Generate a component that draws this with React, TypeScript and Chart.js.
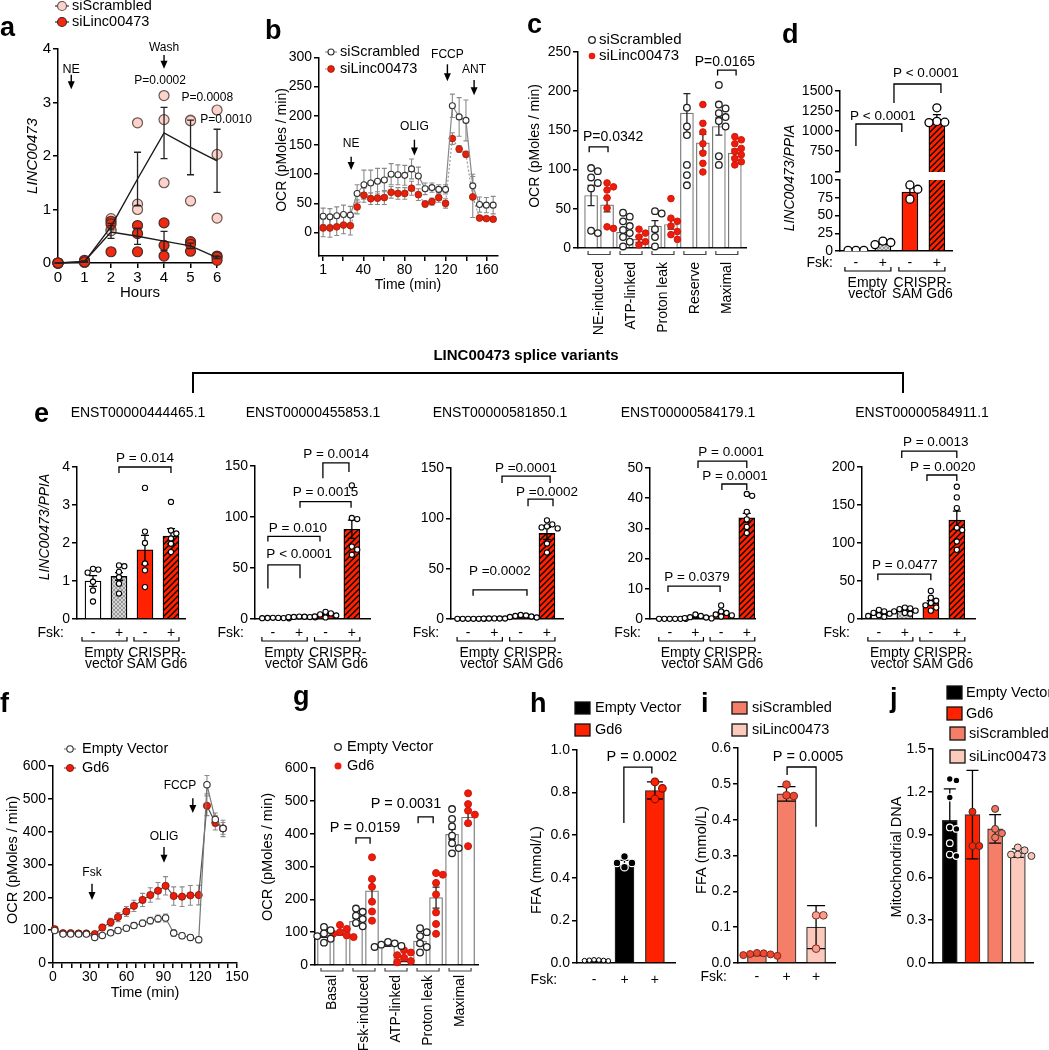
import React, { useEffect, useRef } from 'react';
import { Chart, registerables } from 'chart.js';
Chart.register(...registerables);

const FONT = '"Liberation Sans", Arial, Helvetica, sans-serif';
const PW = 1049;
const PH = 1050;
const YW = 40;

// ================= DATA =================
// a
const aHours = [0, 1, 2, 3, 4, 5, 6];
const aYTicks = [0, 1, 2, 3, 4];
const aScrMean = [0, 0.02, 0.68, 1.57, 2.43, 2.16, 1.91];
const aScrSem = [0, 0.01, 0.06, 0.5, 0.48, 0.51, 0.59];
const aLincMean = [0, 0.03, 0.58, 0.5, 0.41, 0.32, 0.1];
const aLincSem = [0, 0.01, 0.12, 0.15, 0.18, 0.05, 0.02];
const aScrPts = [[0, 0, 0], [0.01, 0.02, 0.03], [0.83, 0.62, 0.6], [2.62, 1.1, 1.0], [3.13, 2.68, 1.5], [2.67, 2.66, 1.16], [2.86, 2.03, 0.84]];
const aLincPts = [[0, 0, 0], [0.03, 0.05, 0.02], [0.78, 0.73, 0.21], [0.7, 0.55, 0.21], [0.75, 0.33, 0.13], [0.4, 0.35, 0.22], [0.13, 0.11, 0.05]];

// b
const bTime = [1, 7.6, 14.2, 20.8, 27.4, 34, 40.6, 47.2, 53.8, 60.4, 67, 73.6, 80.2, 86.8, 93.4, 100, 106.6, 113.2, 119.8, 126.4, 133, 139.6, 146.2, 152.8, 159.4, 166];
const bScr = [28, 27, 29, 31, 30, 67, 82, 85, 88, 90, 100, 99, 98, 109, 97, 75, 77, 74, 74, 217, 198, 192, 80, 48, 47, 47];
const bScrSem = [14, 14, 15, 16, 15, 15, 25, 22, 22, 20, 18, 17, 17, 17, 15, 10, 8, 8, 8, 20, 33, 35, 20, 13, 13, 15];
const bLinc = [8, 8, 10, 13, 12, 44, 64, 58, 59, 60, 69, 67, 67, 76, 65, 49, 53, 60, 50, 161, 143, 134, 61, 25, 24, 23];
const bLincSem = [15, 16, 15, 15, 16, 12, 12, 10, 11, 12, 10, 10, 10, 12, 10, 5, 6, 8, 8, 10, 6, 5, 35, 3, 3, 3];
const bXTicks = [1, 20, 40, 60, 80, 100, 120, 140, 160];
const bXShown = [1, 40, 80, 120, 160];
const bYTicks = [0, 50, 100, 150, 200, 250, 300];

// c
const cCats = ['NE-induced', 'ATP-linked', 'Proton leak', 'Reserve', 'Maximal'];
const cScrMean = [67, 20, 28, 172, 155];
const cScrSem = [13, 5, 7, 25, 11];
const cLincMean = [55, 11, 30, 134, 121];
const cLincSem = [9, 4, 6, 11, 5];
const cScrPts = [[102, 98, 90, 83, 76, 22, 19], [45, 40, 34, 28, 23, 19, 14, 8, 2], [47, 44, 24, 14, 2], [179, 155, 144, 106, 93, 80], [208, 183, 178, 172, 167, 162, 155, 117, 106]];
const cLincPts = [[83, 78, 74, 64, 51, 27, 25], [24, 19, 14, 8, 4], [63, 38, 34, 28, 21, 17, 11], [183, 159, 148, 133, 121, 108, 97], [142, 138, 133, 127, 123, 119, 114, 110, 106]];
const cYTicks = [0, 50, 100, 150, 200, 250];

// d
const dFsk = ['-', '+', '-', '+'];
const dMean = [1, 11, 83, 1145];
const dSem = [0.3, 1.5, 6, 60];
const dPts = [[1, 1, 1], [9, 14, 12], [93, 87, 73], [1290, 1120, 1105, 1110]];
const dYTicksUp = [487.5, 750, 1000, 1250, 1500];
const dYTicksLow = [0, 25, 50, 75, 100];

// e
const eTitles = ['ENST00000444465.1', 'ENST00000455853.1', 'ENST00000581850.1', 'ENST00000584179.1', 'ENST00000584911.1'];
const eMean = [[1.0, 1.12, 1.82, 2.18], [1, 2, 4, 88], [0.2, 0.5, 2.5, 85], [0.05, 0.5, 1.8, 33.5], [7, 11, 21, 130]];
const eSem = [[0.14, 0.1, 0.38, 0.2], [0.2, 0.3, 0.7, 9], [0.05, 0.1, 0.4, 6], [0.02, 0.2, 0.4, 1.5], [1.2, 1.2, 3, 12]];
const ePts = [
  [[1.32, 1.3, 1.22, 0.98, 0.75, 0.46], [1.41, 1.39, 1.24, 1.1, 0.93, 0.67], [3.45, 2.3, 2.0, 1.46, 1.28, 0.84], [3.08, 2.33, 2.25, 2.12, 1.98, 1.76]],
  [[1.2, 1.0, 0.9, 0.8, 1.1, 0.7], [2.4, 2.2, 2.0, 1.9, 1.7, 1.8], [7, 5.5, 4.5, 3.5, 2.5, 1.5], [131, 99, 98, 71, 68, 63]],
  [[0.2, 0.2, 0.2, 0.2, 0.2, 0.2], [0.6, 0.5, 0.5, 0.4, 0.5], [4, 3.5, 3, 2.5, 2, 1.5], [98, 94, 92, 91, 90, 75, 66]],
  [[0.05, 0.05, 0.05, 0.05, 0.05, 0.05], [1.5, 1.0, 0.6, 0.3, 0.2, 0.5], [4.5, 2.5, 2.0, 1.5, 1.2, 0.8], [41.4, 40.8, 35.5, 33, 30.5, 28.5]],
  [[12, 10, 8, 7, 5, 4, 3], [15, 14, 13, 11, 10, 8, 7], [37, 28, 24, 21, 18, 15, 11], [174, 160, 146, 120, 117, 102, 91]],
];
const eYTicks = [[0, 1, 2, 3, 4], [0, 50, 100, 150], [0, 50, 100, 150], [0, 10, 20, 30, 40, 50], [0, 50, 100, 150, 200]];

// f
const fTime = [1.4, 8.2, 14.4, 20.9, 27.2, 34, 40.2, 47, 53, 59.8, 66, 73, 79.3, 85.6, 91.8, 98.4, 105.2, 112, 118.8, 125.5, 132.3, 138.6];
const fEV = [99, 88, 88, 88, 88, 78, 84, 92, 99, 106, 114, 121, 129, 135, 137, 91, 83, 78, 71, 543, 437, 410];
const fEVSem = [6, 5, 5, 5, 5, 6, 6, 7, 8, 8, 9, 10, 10, 11, 12, 10, 9, 9, 9, 28, 20, 18];
const fGd6 = [103, 91, 91, 90, 90, 88, 108, 124, 140, 157, 174, 192, 207, 220, 235, 204, 202, 206, 207, 479, 427, 410];
const fGd6Sem = [6, 6, 6, 6, 6, 8, 10, 12, 14, 15, 17, 20, 22, 25, 28, 28, 30, 30, 30, 30, 22, 25];
const fXTicks = [0, 7.5, 15, 22.5, 30, 37.5, 45, 52.5, 60, 67.5, 75, 82.5, 90, 97.5, 105, 112.5, 120, 127.5, 135, 142.5, 150];
const fXShown = [0, 30, 60, 90, 120, 150];
const fYTicks = [0, 100, 200, 300, 400, 500, 600];

// g
const gCats = ['Basal', 'Fsk-induced', 'ATP-linked', 'Proton leak', 'Maximal'];
const gEVMean = [92, 133, 60, 73, 398];
const gEVSem = [8, 10, 3, 13, 15];
const gGd6Mean = [97, 226, 18, 205, 450];
const gGd6Sem = [6, 33, 8, 32, 22];
const gEVPts = [[116, 106, 96, 88, 80, 68], [172, 162, 150, 140, 128, 118], [70, 66, 62, 58, 55], [112, 100, 88, 66, 55, 38], [475, 445, 422, 394, 371, 356, 340]];
const gGd6Pts = [[122, 110, 100, 95, 90, 85], [328, 262, 238, 193, 163, 135], [45, 38, 30, 22, 12, 8], [280, 275, 250, 215, 160, 125, 95], [523, 490, 470, 458, 432, 362]];
const gYTicks = [0, 100, 200, 300, 400, 500, 600];

// h
const hFsk = ['-', '+', '+'];
const hMean = [0.012, 0.46, 0.81];
const hSd = [0.004, 0.022, 0.04];
const hPts = [[0.015, 0.012, 0.01, 0.013, 0.011, 0.014], [0.5, 0.47, 0.47, 0.45], [0.85, 0.82, 0.77]];
const hYTicks = [0, 0.2, 0.4, 0.6, 0.8, 1.0];

// i
const iFsk = ['-', '+', '+'];
const iMean = [0.024, 0.472, 0.1];
const iSd = [0.003, 0.02, 0.06];
const iPts = [[0.028, 0.027, 0.025, 0.022, 0.02, 0.024], [0.498, 0.468, 0.466], [0.133, 0.133, 0.04]];
const iYTicks = [0, 0.1, 0.2, 0.3, 0.4, 0.5, 0.6];

// j
const jLegend = ['Empty Vector', 'Gd6', 'siScrambled', 'siLinc00473'];
const jMean = [1.0, 1.04, 0.94, 0.77];
const jSd = [0.22, 0.31, 0.1, 0.03];
const jPts = [[1.29, 1.28, 1.16, 0.95, 0.94, 0.84, 0.76, 0.75], [1.06, 0.82, 0.82], [1.08, 0.94, 0.91, 0.88], [0.81, 0.79, 0.76, 0.76, 0.75]];
const jYTicks = [0, 0.3, 0.6, 0.9, 1.2, 1.5];

// ================= HELPERS =================
type Geo = { x0: number; x1: number; yTop: number; yBot: number; xmin: number; xmax: number; ymin: number; ymax: number };

const RED = '#ff2200';
const SALMON = '#f57e69';
const PALE = '#fcc9bd';

function tx(ctx: any, s: string, x: number, y: number, o: any = {}) {
  ctx.save();
  ctx.font = `${o.italic ? 'italic ' : ''}${o.bold ? 'bold ' : ''}${o.size || 14}px ${FONT}`;
  ctx.fillStyle = o.color || '#000';
  ctx.textAlign = o.align || 'center';
  ctx.textBaseline = o.base || 'middle';
  ctx.translate(x, y);
  if (o.rot) ctx.rotate(o.rot);
  ctx.fillText(s, 0, 0);
  ctx.restore();
}
function ln(ctx: any, pts: number[][], w = 1.3, c = '#000', dash: number[] = []) {
  ctx.save();
  ctx.strokeStyle = c;
  ctx.lineWidth = w;
  ctx.setLineDash(dash);
  ctx.beginPath();
  pts.forEach((p, i) => (i ? ctx.lineTo(p[0], p[1]) : ctx.moveTo(p[0], p[1])));
  ctx.stroke();
  ctx.restore();
}
function dot(ctx: any, x: number, y: number, r: number, fill: string, stroke: string | null, w = 1.2) {
  ctx.save();
  ctx.beginPath();
  ctx.arc(x, y, r, 0, Math.PI * 2);
  ctx.fillStyle = fill;
  ctx.fill();
  if (stroke) { ctx.strokeStyle = stroke; ctx.lineWidth = w; ctx.stroke(); }
  ctx.restore();
}
function sq(ctx: any, x: number, y: number, w: number, h: number, fill: string) {
  ctx.save();
  ctx.fillStyle = fill;
  ctx.fillRect(x, y, w, h);
  ctx.strokeStyle = '#111';
  ctx.lineWidth = 1.3;
  ctx.strokeRect(x, y, w, h);
  ctx.restore();
}
function arrowDown(ctx: any, x: number, y1: number, y2: number) {
  ln(ctx, [[x, y1], [x, y2 - 5]], 1.4);
  ctx.save();
  ctx.fillStyle = '#000';
  ctx.beginPath();
  ctx.moveTo(x, y2);
  ctx.lineTo(x - 3.5, y2 - 8);
  ctx.lineTo(x + 3.5, y2 - 8);
  ctx.closePath();
  ctx.fill();
  ctx.restore();
}
function pb(ctx: any, X: any, Y: any, b: any[], size = 14) {
  const [x1, x2, top, yl, yr, t, tcx, tcy] = b;
  ln(ctx, [[X(x1), Y(yl)], [X(x1), Y(top)], [X(x2), Y(top)], [X(x2), Y(yr)]], 1.3);
  tx(ctx, t, X(tcx), Y(tcy), { size });
}
const XS = (c: any) => (v: number) => c.scales.x.getPixelForValue(v);
const YS = (c: any) => (v: number) => c.scales.y.getPixelForValue(v);

function errBars(c: any, xs: number[], ms: number[], ss: number[], cap: number, lw: number, color: string, clip: boolean) {
  const ctx = c.ctx, X = XS(c), Y = YS(c), a = c.chartArea;
  ctx.save();
  if (clip) { ctx.beginPath(); ctx.rect(a.left - 30, a.top, a.right - a.left + 60, a.bottom - a.top); ctx.clip(); }
  ctx.strokeStyle = color;
  ctx.lineWidth = lw;
  xs.forEach((x, i) => {
    const px = X(x), hi = Y(ms[i] + ss[i]), lo = Y(ms[i] - ss[i]);
    ctx.beginPath();
    ctx.moveTo(px, hi); ctx.lineTo(px, lo);
    ctx.moveTo(px - cap, hi); ctx.lineTo(px + cap, hi);
    ctx.moveTo(px - cap, lo); ctx.lineTo(px + cap, lo);
    ctx.stroke();
  });
  ctx.restore();
}

function mkHatch(bg: string, fg: string, size: number, lw: number, cross: boolean) {
  const c = document.createElement('canvas');
  c.width = size; c.height = size;
  const x = c.getContext('2d') as CanvasRenderingContext2D;
  x.fillStyle = bg; x.fillRect(0, 0, size, size);
  x.strokeStyle = fg; x.lineWidth = lw;
  x.beginPath();
  x.moveTo(0, size); x.lineTo(size, 0);
  x.moveTo(-size / 2, size / 2); x.lineTo(size / 2, -size / 2);
  x.moveTo(size / 2, size * 1.5); x.lineTo(size * 1.5, size / 2);
  if (cross) {
    x.moveTo(0, 0); x.lineTo(size, size);
    x.moveTo(-size / 2, size / 2); x.lineTo(size / 2, size * 1.5);
    x.moveTo(size / 2, -size / 2); x.lineTo(size * 1.5, size / 2);
  }
  x.stroke();
  return x.createPattern(c, 'repeat');
}

function swarm(vals: number[], pxY: number, pxX: number, r: number) {
  const idx = vals.map((_, i) => i).sort((a, b) => vals[b] - vals[a]);
  const placed: { x: number; y: number }[] = [];
  const out = vals.map(() => 0);
  const step = r * 1.7;
  for (const i of idx) {
    const y = vals[i] * pxY;
    let ch = 0;
    for (let k = 0; k < 14; k++) {
      const cand = k === 0 ? 0 : (k % 2 ? 1 : -1) * Math.ceil(k / 2) * step;
      if (placed.every((p) => Math.hypot(p.x - cand, p.y - y) >= r * 1.6)) { ch = cand; break; }
    }
    placed.push({ x: ch, y });
    out[i] = ch / pxX;
  }
  return out;
}
const flatPts = (xs: number[], pts: number[][]) => xs.flatMap((x, i) => pts[i].map((v) => ({ x, y: v })));

function plug(o: { before?: (c: any) => void; after?: (c: any) => void; bar?: (c: any) => void }) {
  return {
    id: 'extras',
    beforeDatasetsDraw(c: any) { if (o.before) { c.ctx.save(); o.before(c); c.ctx.restore(); } },
    afterDatasetDraw(c: any, a: any) { if (o.bar && a.index === 0) { c.ctx.save(); o.bar(c); c.ctx.restore(); } },
    afterDatasetsDraw(c: any) { if (o.after) { c.ctx.save(); o.after(c); c.ctx.restore(); } },
  };
}

function yLin(g: Geo, ticks: number[], fmt: (v: number) => string = (v) => String(v), size = 14) {
  return {
    type: 'linear', position: 'left', min: g.ymin, max: g.ymax,
    afterBuildTicks: (s: any) => { s.ticks = ticks.map((v) => ({ value: v })); },
    afterFit: (s: any) => { s.width = YW; },
    ticks: { autoSkip: false, font: { family: FONT, size }, color: '#000', padding: 2, callback: (v: any) => fmt(Number(v)) },
    grid: { drawOnChartArea: false, drawTicks: true, tickLength: 5, tickWidth: 1.5, color: '#000', lineWidth: 1.5 },
    border: { display: true, color: '#000', width: 1.5 },
  };
}
function xLin(g: Geo, ticks: number[], shown: number[], xh: number, size = 14) {
  return {
    type: 'linear', position: 'bottom', min: g.xmin, max: g.xmax, offset: false,
    afterBuildTicks: (s: any) => { s.ticks = ticks.map((v) => ({ value: v })); },
    afterFit: (s: any) => { s.height = xh; },
    ticks: { autoSkip: false, maxRotation: 0, minRotation: 0, font: { family: FONT, size }, color: '#000', padding: 1, callback: (v: any) => (shown.includes(Number(v)) ? String(v) : '') },
    grid: { drawOnChartArea: false, drawTicks: true, tickLength: 5, tickWidth: 1.5, color: '#000', lineWidth: 1.5, offset: false },
    border: { display: true, color: '#000', width: 1.5 },
  };
}
function xBar(g: Geo, show = true) {
  return {
    type: 'linear', position: 'bottom', min: g.xmin, max: g.xmax, offset: false, display: show,
    afterFit: (s: any) => { s.height = 0; },
    ticks: { display: false }, grid: { display: false, offset: false },
    border: { display: true, color: '#000', width: 1.5 },
  };
}
function opts(g: Geo, xh: number, scales: any) {
  return {
    responsive: false, maintainAspectRatio: false, animation: false, devicePixelRatio: 1, events: [],
    layout: { autoPadding: false, padding: { left: g.x0 - YW, top: g.yTop, right: PW - g.x1, bottom: PH - g.yBot - xh } },
    plugins: { legend: { display: false }, tooltip: { enabled: false }, title: { display: false } },
    scales,
  };
}

function barCfg(o: any) {
  const g: Geo = o.g;
  const pxY = (g.yBot - g.yTop) / (g.ymax - g.ymin);
  const pxX = (g.x1 - g.x0) / (g.xmax - g.xmin);
  const ds: any[] = [{
    type: 'bar', data: o.pos.map((x: number, i: number) => ({ x, y: o.means[i] })),
    backgroundColor: o.colors, borderColor: o.border || '#000', borderWidth: o.bw ?? 1.2,
    barThickness: o.barW, grouped: false, clip: 0, order: 5,
  }];
  o.groups.forEach((gr: any) => {
    const data = gr.pos.flatMap((x: number, i: number) => {
      const off = swarm(gr.pts[i], pxY, pxX, gr.r + gr.bw / 2);
      return gr.pts[i].map((v: number, j: number) => ({ x: x + off[j], y: v }));
    });
    ds.push({ type: 'scatter', data, pointRadius: gr.r, pointBackgroundColor: gr.fill, pointBorderColor: gr.stroke, pointBorderWidth: gr.bw, clip: o.clipPts ? 0 : false, order: 1 });
  });
  return {
    type: 'bar',
    data: { datasets: ds },
    options: opts(g, 0, { x: xBar(g, !o.hideX), y: yLin(g, o.yticks, o.fmt) }),
    plugins: [plug({
      bar: (c) => errBars(c, o.pos, o.means, o.sems, o.cap, o.elw || 1.3, o.ecol || '#000', true),
      after: o.after ? (c) => o.after(c, c.ctx, XS(c), YS(c)) : undefined,
    })],
  };
}

const letter = (ctx: any, s: string, x: number, y: number) => tx(ctx, s, x, y, { size: 27, bold: true, align: 'left', base: 'alphabetic' });
const ROT = -Math.PI / 2;

function fskBlock(ctx: any, X: any, fy: number, off: number, signs: string[]) {
  tx(ctx, 'Fsk:', X(1) - off, fy, { align: 'right', size: 14 });
  signs.forEach((s, i) => tx(ctx, s, X(i + 1), fy, { size: 14 }));
  const by = fy + 8;
  [[1, 2], [3, 4]].forEach(([a, b]) => ln(ctx, [[X(a) - 11, by - 4], [X(a) - 11, by], [X(b) + 8, by], [X(b) + 8, by - 4]], 1.2));
  tx(ctx, 'Empty', X(1.5) - 2, fy + 20, { size: 14 });
  tx(ctx, 'vector', X(1.5) - 2, fy + 31, { size: 14 });
  tx(ctx, 'CRISPR-', X(3.5) - 1, fy + 20, { size: 14 });
  tx(ctx, 'SAM Gd6', X(3.5) - 1, fy + 31, { size: 14 });
}

// ================= PANELS =================
const gA: Geo = { x0: 58, x1: 219.7, yTop: 49, yBot: 263, xmin: 0, xmax: 6.1, ymin: 0, ymax: 4 };
function cfgA() {
  const g = gA;
  return {
    type: 'scatter',
    data: { datasets: [
      { type: 'line', data: aHours.map((h, i) => ({ x: h, y: aScrMean[i] })), borderColor: '#1a1a1a', borderWidth: 1.4, pointRadius: 0, clip: false, order: 0 },
      { type: 'line', data: aHours.map((h, i) => ({ x: h, y: aLincMean[i] })), borderColor: '#1a1a1a', borderWidth: 1.4, pointRadius: 0, clip: false, order: 0 },
      { data: flatPts(aHours, aScrPts), pointRadius: 5, pointBackgroundColor: '#fbd3ca', pointBorderColor: '#6a5550', pointBorderWidth: 1.2, clip: false, order: 2 },
      { data: flatPts(aHours, aLincPts), pointRadius: 5, pointBackgroundColor: '#ef2a10', pointBorderColor: '#4a2a25', pointBorderWidth: 1.2, clip: false, order: 1 },
    ] },
    options: opts(g, 20, { x: xLin(g, aHours, aHours, 20, 15), y: yLin(g, aYTicks, undefined, 15) }),
    plugins: [plug({ after: (c) => {
      const ctx = c.ctx, X = XS(c), Y = YS(c);
      errBars(c, aHours, aScrMean, aScrSem, 3.5, 1.3, '#222', false);
      errBars(c, aHours, aLincMean, aLincSem, 3.5, 1.3, '#222', false);
      tx(ctx, 'NE', X(0.5), Y(3.62), { size: 12.5 });
      arrowDown(ctx, X(0.5), Y(3.52), Y(3.25));
      tx(ctx, 'Wash', X(4), Y(4.02), { size: 12 });
      arrowDown(ctx, X(4), Y(3.89), Y(3.63));
      tx(ctx, 'P=0.0002', X(3.85), Y(3.4), { size: 12 });
      tx(ctx, 'P=0.0008', X(5.63), Y(3.09), { size: 12 });
      tx(ctx, 'P=0.0010', X(6.34), Y(2.67), { size: 12 });
      tx(ctx, 'Hours', 140, 293, { size: 15 });
      tx(ctx, 'LINC00473', 33, 156, { size: 15, italic: true, rot: ROT });
      ln(ctx, [[55, 6], [69, 6]], 1.2, '#333'); dot(ctx, 62, 6, 4.5, '#fbd3ca', '#6a5550', 1.2);
      tx(ctx, 'siScrambled', 72, 6, { align: 'left', size: 14.5 });
      ln(ctx, [[55, 22], [69, 22]], 1.2, '#333'); dot(ctx, 62, 22, 4.5, '#ef2a10', '#4a2a25', 1.2);
      tx(ctx, 'siLinc00473', 72, 22, { align: 'left', size: 14.5 });
      letter(ctx, 'a', 0, 36);
    } })],
  };
}

const gB: Geo = { x0: 319, x1: 498, yTop: 57.3, yBot: 256, xmin: -3, xmax: 170.7, ymin: -40, ymax: 300 };
function cfgB() {
  const g = gB;
  return {
    type: 'scatter',
    data: { datasets: [
      { type: 'line', data: bTime.map((t, i) => ({ x: t, y: bScr[i] })), borderColor: '#888', borderWidth: 1.2, pointRadius: 3, pointBackgroundColor: '#fff', pointBorderColor: '#333', pointBorderWidth: 1.1, clip: false, order: 0 },
      { type: 'line', data: bTime.map((t, i) => ({ x: t, y: bLinc[i] })), borderColor: '#999', borderWidth: 1.2, borderDash: [2, 2], pointRadius: 3.4, pointBackgroundColor: '#e8200a', pointBorderColor: '#9a1a0a', pointBorderWidth: 0.8, clip: false, order: 1 },
    ] },
    options: opts(g, 20, { x: xLin(g, bXTicks, bXShown, 20), y: yLin(g, bYTicks) }),
    plugins: [plug({
      before: (c) => {
        errBars(c, bTime, bScr, bScrSem, 2.5, 1.1, '#8a8a8a', false);
        errBars(c, bTime, bLinc, bLincSem, 2.5, 1.1, '#8a8a8a', false);
      },
      after: (c) => {
        const ctx = c.ctx, X = XS(c), Y = YS(c);
        tx(ctx, 'NE', X(28.2), Y(153), { size: 12 }); arrowDown(ctx, X(28.2), Y(130), Y(107));
        tx(ctx, 'OLIG', X(89.6), Y(181), { size: 12 }); arrowDown(ctx, X(89.6), Y(159), Y(132));
        tx(ctx, 'FCCP', X(121.6), Y(304), { size: 12 }); arrowDown(ctx, X(121.6), Y(288), Y(259));
        tx(ctx, 'ANT', X(147.5), Y(278), { size: 12 }); arrowDown(ctx, X(147.5), Y(261), Y(235));
        ln(ctx, [[325, 52], [337, 52]], 1.1, '#888'); dot(ctx, 331, 52, 3, '#fff', '#333', 1.1);
        tx(ctx, 'siScrambled', 340, 52, { align: 'left', size: 14.5 });
        ln(ctx, [[325, 69], [337, 69]], 1.1, '#999', [2, 2]); dot(ctx, 331, 69, 3.4, '#e8200a', '#9a1a0a', 0.8);
        tx(ctx, 'siLinc00473', 340, 69, { align: 'left', size: 14.5 });
        tx(ctx, 'OCR (pMoles / min)', 282, 150, { size: 14, rot: ROT });
        tx(ctx, 'Time (min)', 408, 285, { size: 14 });
        letter(ctx, 'b', 265, 39);
      },
    })],
  };
}

const gC: Geo = { x0: 578, x1: 746, yTop: 52, yBot: 248, xmin: 0.34, xmax: 5.6, ymin: 0, ymax: 250 };
function cfgC() {
  const posS = cCats.map((_, i) => i + 1 - 0.25);
  const posL = cCats.map((_, i) => i + 1 + 0.25);
  return barCfg({
    g: gC, yticks: cYTicks,
    pos: cCats.flatMap((_, i) => [posS[i], posL[i]]),
    means: cScrMean.flatMap((m, i) => [m, cLincMean[i]]),
    sems: cScrSem.flatMap((s, i) => [s, cLincSem[i]]),
    colors: '#fff', border: '#777', bw: 1.2, barW: 13, cap: 3.5, ecol: '#222',
    groups: [
      { pos: posS, pts: cScrPts, r: 3.3, bw: 1.3, fill: '#fff', stroke: '#222' },
      { pos: posL, pts: cLincPts, r: 3.3, bw: 1, fill: '#ee1c0c', stroke: '#d01808' },
    ],
    after: (c: any, ctx: any, X: any, Y: any) => {
      pb(ctx, X, Y, [0.69, 1.28, 129, 122, 122, 'P=0.0342', 1.44, 141.6], 14);
      pb(ctx, X, Y, [4.71, 5.29, 227, 220, 220, 'P=0.0165', 4.94, 237], 14);
      cCats.forEach((s, i) => {
        const xc = X(i + 1);
        ln(ctx, [[xc - 11, 251], [xc - 11, 254.5], [xc + 11, 254.5], [xc + 11, 251]], 1.2, '#444');
        tx(ctx, s, xc, 262, { rot: ROT, align: 'right', size: 14 });
      });
      dot(ctx, 592, 40, 3.3, '#fff', '#222', 1.3); tx(ctx, 'siScrambled', 599, 40, { align: 'left', size: 15 });
      dot(ctx, 592, 56, 3.3, '#ee1c0c', null); tx(ctx, 'siLinc00473', 599, 56, { align: 'left', size: 15 });
      tx(ctx, 'OCR (pMoles / min)', 535, 146, { size: 14, rot: ROT });
      letter(ctx, 'c', 527, 33);
    },
  });
}

const gDUp: Geo = { x0: 840, x1: 952, yTop: 91, yBot: 172, xmin: 0.41, xmax: 4.56, ymin: 487.5, ymax: 1500 };
const gDLow: Geo = { x0: 840, x1: 952, yTop: 180, yBot: 251, xmin: 0.41, xmax: 4.56, ymin: 0, ymax: 100 };
function dCommon(pats: any, g: Geo) {
  return {
    g, pos: [1, 2, 3, 4], means: dMean, sems: dSem,
    colors: ['#fff', pats.grey, RED, pats.red], border: '#000', bw: 1.3, barW: 16, cap: 4, clipPts: true,
    groups: [{ pos: [1, 2, 3, 4], pts: dPts, r: 4, bw: 1.3, fill: '#fff', stroke: '#000' }],
  };
}
function cfgDUp(pats: any) {
  return barCfg({
    ...dCommon(pats, gDUp), hideX: true, yticks: dYTicksUp, fmt: (v: number) => (v < 500 ? '' : String(v)),
    after: (c: any, ctx: any, X: any, Y: any) => {
      pb(ctx, X, Y, [1.0, 2.7, 1087.5, 812.5, 987.5, 'P < 0.0001', 2.0, 1187.5], 13.5);
      pb(ctx, X, Y, [2.41, 4.15, 1587.5, 1350, 1475, 'P < 0.0001', 3.59, 1725], 13.5);
      tx(ctx, 'LINC00473/PPIA', 790, 178, { size: 14, italic: true, rot: ROT });
      letter(ctx, 'd', 782, 43);
    },
  });
}
function cfgDLow(pats: any) {
  return barCfg({
    ...dCommon(pats, gDLow), yticks: dYTicksLow,
    after: (c: any, ctx: any, X: any) => { fskBlock(ctx, X, 263, 23, dFsk); },
  });
}

const gE: Geo[] = [
  { x0: 77, x1: 185, yTop: 467, yBot: 619, xmin: 0.385, xmax: 4.54, ymin: 0, ymax: 4 },
  { x0: 255, x1: 370, yTop: 466, yBot: 619, xmin: 0.32, xmax: 4.69, ymin: 0, ymax: 150 },
  { x0: 451, x1: 563, yTop: 468, yBot: 619, xmin: 0.35, xmax: 4.61, ymin: 0, ymax: 150 },
  { x0: 650, x1: 755, yTop: 468, yBot: 619, xmin: 0.23, xmax: 4.32, ymin: 0, ymax: 50 },
  { x0: 862, x1: 975, yTop: 467, yBot: 619, xmin: 0.35, xmax: 4.7, ymin: 0, ymax: 200 },
];
const eTitleX = [138, 313, 500, 688, 922];
const eBr: any[][] = [
  [[2, 4, 4.0, 3.84, 3.84, 'P = 0.014', 3, 4.24]],
  [[2.9, 3.89, 153, 138, 144, 'P = 0.0014', 3.4, 161], [2.03, 3.97, 115, 109, 109, 'P = 0.0015', 3.0, 124], [0.81, 2.79, 81, 76, 76, 'P = 0.010', 1.95, 89], [0.81, 2.03, 53, 30, 40, 'P < 0.0001', 2.0, 63]],
  [[2.29, 4.12, 142, 135, 135, 'P =0.0001', 3.2, 150], [3.28, 4.23, 119, 112, 112, 'P =0.0002', 4.0, 126], [1.19, 3.24, 29, 23, 23, 'P =0.0002', 2.21, 47]],
  [[2.1, 4.0, 52.3, 50, 50, 'P = 0.0001', 3.39, 55.3], [3.03, 4.0, 44.7, 42.7, 42.7, 'P = 0.0001', 3.54, 47.4], [0.93, 2.96, 10.9, 8.9, 8.9, 'P = 0.0379', 2.06, 13.9]],
  [[1.88, 4.0, 221, 212, 212, 'P = 0.0013', 3.19, 233], [2.85, 4.0, 189.5, 181.6, 181.6, 'P = 0.0020', 3.46, 200], [0.96, 3.0, 59, 51, 51, 'P = 0.0477', 2.0, 71]],
];
function cfgE(k: number, pats: any) {
  return barCfg({
    g: gE[k], yticks: eYTicks[k], pos: [1, 2, 3, 4], means: eMean[k], sems: eSem[k],
    colors: ['#fff', pats.grey, RED, pats.red], border: '#000', bw: 1.3, barW: 16, cap: 4,
    groups: [{ pos: [1, 2, 3, 4], pts: ePts[k], r: 2.6, bw: 1.1, fill: '#fff', stroke: '#000' }],
    after: (c: any, ctx: any, X: any, Y: any) => {
      eBr[k].forEach((b) => pb(ctx, X, Y, b, 13.5));
      fskBlock(ctx, X, 633, 29, dFsk);
      tx(ctx, eTitles[k], eTitleX[k], 413, { size: 14 });
      if (k === 0) {
        tx(ctx, 'LINC00473/PPIA', 45, 527, { size: 14, italic: true, rot: ROT });
        letter(ctx, 'e', 34, 422);
        tx(ctx, 'LINC00473 splice variants', 526, 356, { size: 15, bold: true });
        ln(ctx, [[193, 393], [193, 373], [903, 373], [903, 393]], 2);
      }
    },
  });
}

const gF: Geo = { x0: 53, x1: 237, yTop: 766, yBot: 963, xmin: 0, xmax: 150, ymin: 0, ymax: 600 };
function cfgF() {
  const g = gF;
  return {
    type: 'scatter',
    data: { datasets: [
      { type: 'line', data: fTime.map((t, i) => ({ x: t, y: fEV[i] })), borderColor: '#777', borderWidth: 1.2, pointRadius: 3.2, pointBackgroundColor: '#fff', pointBorderColor: '#333', pointBorderWidth: 1.1, clip: false, order: 0 },
      { type: 'line', data: fTime.map((t, i) => ({ x: t, y: fGd6[i] })), borderColor: '#555', borderWidth: 1.2, pointRadius: 3.6, pointBackgroundColor: '#ee1d0a', pointBorderColor: '#7a1005', pointBorderWidth: 0.8, clip: false, order: 1 },
    ] },
    options: opts(g, 20, { x: xLin(g, fXTicks, fXShown, 20), y: yLin(g, fYTicks) }),
    plugins: [plug({
      before: (c) => {
        errBars(c, fTime, fEV, fEVSem, 2.5, 1.1, '#8a8a8a', false);
        errBars(c, fTime, fGd6, fGd6Sem, 2.5, 1.1, '#8a8a8a', false);
      },
      after: (c) => {
        const ctx = c.ctx, X = XS(c), Y = YS(c);
        tx(ctx, 'Fsk', X(31.8), Y(274), { size: 12 }); arrowDown(ctx, X(31.8), Y(241), Y(192));
        tx(ctx, 'OLIG', X(90.5), Y(384), { size: 12 }); arrowDown(ctx, X(90.5), Y(353), Y(305));
        tx(ctx, 'FCCP', X(103.5), Y(539), { size: 12 }); arrowDown(ctx, X(114), Y(502), Y(457));
        ln(ctx, [[64, 749], [76, 749]], 1.1, '#777'); dot(ctx, 70, 749, 3.2, '#fff', '#333', 1.1);
        tx(ctx, 'Empty Vector', 82, 749, { align: 'left', size: 14.5 });
        ln(ctx, [[64, 768], [76, 768]], 1.1, '#555'); dot(ctx, 70, 768, 3.6, '#ee1d0a', '#7a1005', 0.8);
        tx(ctx, 'Gd6', 82, 768, { align: 'left', size: 14.5 });
        tx(ctx, 'OCR (pMoles / min)', 13, 860, { size: 14.5, rot: ROT });
        tx(ctx, 'Time (min)', 145, 993, { size: 14.5 });
        letter(ctx, 'f', 0, 712);
      },
    })],
  };
}

const gG: Geo = { x0: 315, x1: 478, yTop: 768, yBot: 965, xmin: 0.47, xmax: 5.56, ymin: 0, ymax: 600 };
function cfgG() {
  const posE = gCats.map((_, i) => i + 1 - 0.25);
  const posG = gCats.map((_, i) => i + 1 + 0.25);
  return barCfg({
    g: gG, yticks: gYTicks,
    pos: gCats.flatMap((_, i) => [posE[i], posG[i]]),
    means: gEVMean.flatMap((m, i) => [m, gGd6Mean[i]]),
    sems: gEVSem.flatMap((s, i) => [s, gGd6Sem[i]]),
    colors: '#fff', border: '#777', bw: 1.2, barW: 13, cap: 3.5, ecol: '#222',
    groups: [
      { pos: posE, pts: gEVPts, r: 3.3, bw: 1.3, fill: '#fff', stroke: '#222' },
      { pos: posG, pts: gGd6Pts, r: 3.5, bw: 1, fill: '#ee1c0c', stroke: '#d01808' },
    ],
    after: (c: any, ctx: any, X: any, Y: any) => {
      pb(ctx, X, Y, [1.75, 2.19, 387, 369, 369, 'P = 0.0159', 2.03, 417], 14.5);
      pb(ctx, X, Y, [3.69, 4.16, 451, 432, 432, 'P = 0.0031', 3.31, 490], 14.5);
      gCats.forEach((s, i) => {
        const xc = X(i + 1);
        ln(ctx, [[xc - 11, 968], [xc - 11, 971], [xc + 11, 971], [xc + 11, 968]], 1.2, '#444');
        tx(ctx, s, xc, 975, { rot: ROT, align: 'right', size: 14 });
      });
      dot(ctx, 338, 747, 3.3, '#fff', '#222', 1.3); tx(ctx, 'Empty Vector', 347, 747, { align: 'left', size: 14.5 });
      dot(ctx, 338, 766, 3.5, '#ee1c0c', null); tx(ctx, 'Gd6', 347, 766, { align: 'left', size: 14.5 });
      tx(ctx, 'OCR (pMoles / min)', 268, 857, { size: 14.5, rot: ROT });
      letter(ctx, 'g', 293, 705);
    },
  });
}

const gH: Geo = { x0: 577, x1: 675, yTop: 750, yBot: 963, xmin: 0.44, xmax: 3.66, ymin: 0, ymax: 1 };
function cfgH() {
  return barCfg({
    g: gH, yticks: hYTicks, fmt: (v: number) => v.toFixed(1), pos: [1, 2, 3], means: hMean, sems: hSd,
    colors: ['#000', '#000', RED], border: '#222', bw: 1.2, barW: 19, cap: 8,
    groups: [
      { pos: [1], pts: [hPts[0]], r: 2.3, bw: 1, fill: '#fff', stroke: '#000' },
      { pos: [2], pts: [hPts[1]], r: 3.8, bw: 1.2, fill: '#000', stroke: '#fff' },
      { pos: [3], pts: [hPts[2]], r: 3.8, bw: 1.2, fill: RED, stroke: '#8a1000' },
    ],
    after: (c: any, ctx: any, X: any, Y: any) => {
      pb(ctx, X, Y, [1.98, 2.9, 0.92, 0.657, 0.89, 'P = 0.0002', 2.57, 0.967], 14.5);
      tx(ctx, 'Fsk:', X(1) - 37, 980, { align: 'right', size: 14 });
      hFsk.forEach((s, i) => tx(ctx, s, X(i + 1), 980, { size: 14 }));
      sq(ctx, 575, 702, 15, 12, '#000'); tx(ctx, 'Empty Vector', 595, 708, { align: 'left', size: 14.5 });
      sq(ctx, 575, 724, 15, 12, RED); tx(ctx, 'Gd6', 595, 730, { align: 'left', size: 14.5 });
      tx(ctx, 'FFA (mmol/L)', 537, 870, { size: 14.5, rot: ROT });
      letter(ctx, 'h', 530, 712);
    },
  });
}

const gI: Geo = { x0: 738, x1: 835, yTop: 748, yBot: 963, xmin: 0.36, xmax: 3.64, ymin: 0, ymax: 0.6 };
function cfgI() {
  return barCfg({
    g: gI, yticks: iYTicks, fmt: (v: number) => v.toFixed(1), pos: [1, 2, 3], means: iMean, sems: iSd,
    colors: [SALMON, SALMON, PALE], border: '#333', bw: 1.2, barW: 19, cap: 9,
    groups: [
      { pos: [1], pts: [iPts[0]], r: 3.5, bw: 1, fill: '#f0472f', stroke: '#7a2a20' },
      { pos: [2], pts: [iPts[1]], r: 3.8, bw: 1, fill: '#f0472f', stroke: '#7a2a20' },
      { pos: [3], pts: [iPts[2]], r: 3.8, bw: 1, fill: '#f7a08f', stroke: '#7a2a20' },
    ],
    after: (c: any, ctx: any, X: any, Y: any) => {
      pb(ctx, X, Y, [2.02, 3.0, 0.547, 0.525, 0.38, 'P = 0.0005', 2.73, 0.575], 14.5);
      tx(ctx, 'Fsk:', X(1) - 30, 977, { align: 'right', size: 14 });
      iFsk.forEach((s, i) => tx(ctx, s, X(i + 1), 977, { size: 14 }));
      sq(ctx, 732, 702, 15, 12, SALMON); tx(ctx, 'siScrambled', 752, 708, { align: 'left', size: 14.5 });
      sq(ctx, 732, 724, 15, 12, PALE); tx(ctx, 'siLinc00473', 752, 730, { align: 'left', size: 14.5 });
      tx(ctx, 'FFA (mmol/L)', 702, 850, { size: 14.5, rot: ROT });
      letter(ctx, 'i', 701, 712);
    },
  });
}

const gJ: Geo = { x0: 933, x1: 1033, yTop: 749, yBot: 963, xmin: 0.26, xmax: 4.67, ymin: 0, ymax: 1.5 };
function cfgJ() {
  const cols = ['#000', RED, SALMON, PALE];
  return barCfg({
    g: gJ, yticks: jYTicks, fmt: (v: number) => v.toFixed(1), pos: [1, 2, 3, 4], means: jMean, sems: jSd,
    colors: cols, border: '#333', bw: 1.2, barW: 15, cap: 6,
    groups: [
      { pos: [1], pts: [jPts[0]], r: 3.3, bw: 1.2, fill: '#000', stroke: '#fff' },
      { pos: [2], pts: [jPts[1]], r: 3.5, bw: 1, fill: RED, stroke: '#333' },
      { pos: [3], pts: [jPts[2]], r: 3.5, bw: 1, fill: '#f47560', stroke: '#333' },
      { pos: [4], pts: [jPts[3]], r: 3.5, bw: 1, fill: '#fbc5b8', stroke: '#333' },
    ],
    after: (c: any, ctx: any) => {
      const rows = [693, 714, 734, 757];
      const sx = [947, 947, 950, 950];
      jLegend.forEach((s, i) => {
        sq(ctx, sx[i], rows[i] - 7, 15, 13, cols[i]);
        tx(ctx, s, sx[i] + 19, rows[i], { align: 'left', size: 14.5 });
      });
      tx(ctx, 'Mitochondrial DNA', 897, 857, { size: 14.5, rot: ROT });
      letter(ctx, 'j', 890, 707);
    },
  });
}

const N_CHARTS = 16;

export default function App() {
  const refs = useRef<(HTMLCanvasElement | null)[]>([]);
  useEffect(() => {
    const pats = { red: mkHatch(RED, '#000', 6, 1.3, false), grey: mkHatch('#d4d4d4', '#8c8c8c', 4, 0.8, true) };
    const cfgs: any[] = [cfgA(), cfgB(), cfgC(), cfgDUp(pats), cfgDLow(pats), ...[0, 1, 2, 3, 4].map((k) => cfgE(k, pats)), cfgF(), cfgG(), cfgH(), cfgI(), cfgJ()];
    const charts = cfgs.map((cfg, i) => new Chart(refs.current[i] as HTMLCanvasElement, cfg));
    return () => charts.forEach((ch) => ch.destroy());
  }, []);
  return (
    <div style={{ position: 'fixed', left: 0, top: 0, width: PW, height: PH, background: '#fff', overflow: 'hidden' }}>
      {Array.from({ length: N_CHARTS }).map((_, i) => (
        <canvas
          key={i}
          ref={(el) => { refs.current[i] = el; }}
          width={PW}
          height={PH}
          style={{ position: 'absolute', left: 0, top: 0, width: PW, height: PH }}
        />
      ))}
    </div>
  );
}
